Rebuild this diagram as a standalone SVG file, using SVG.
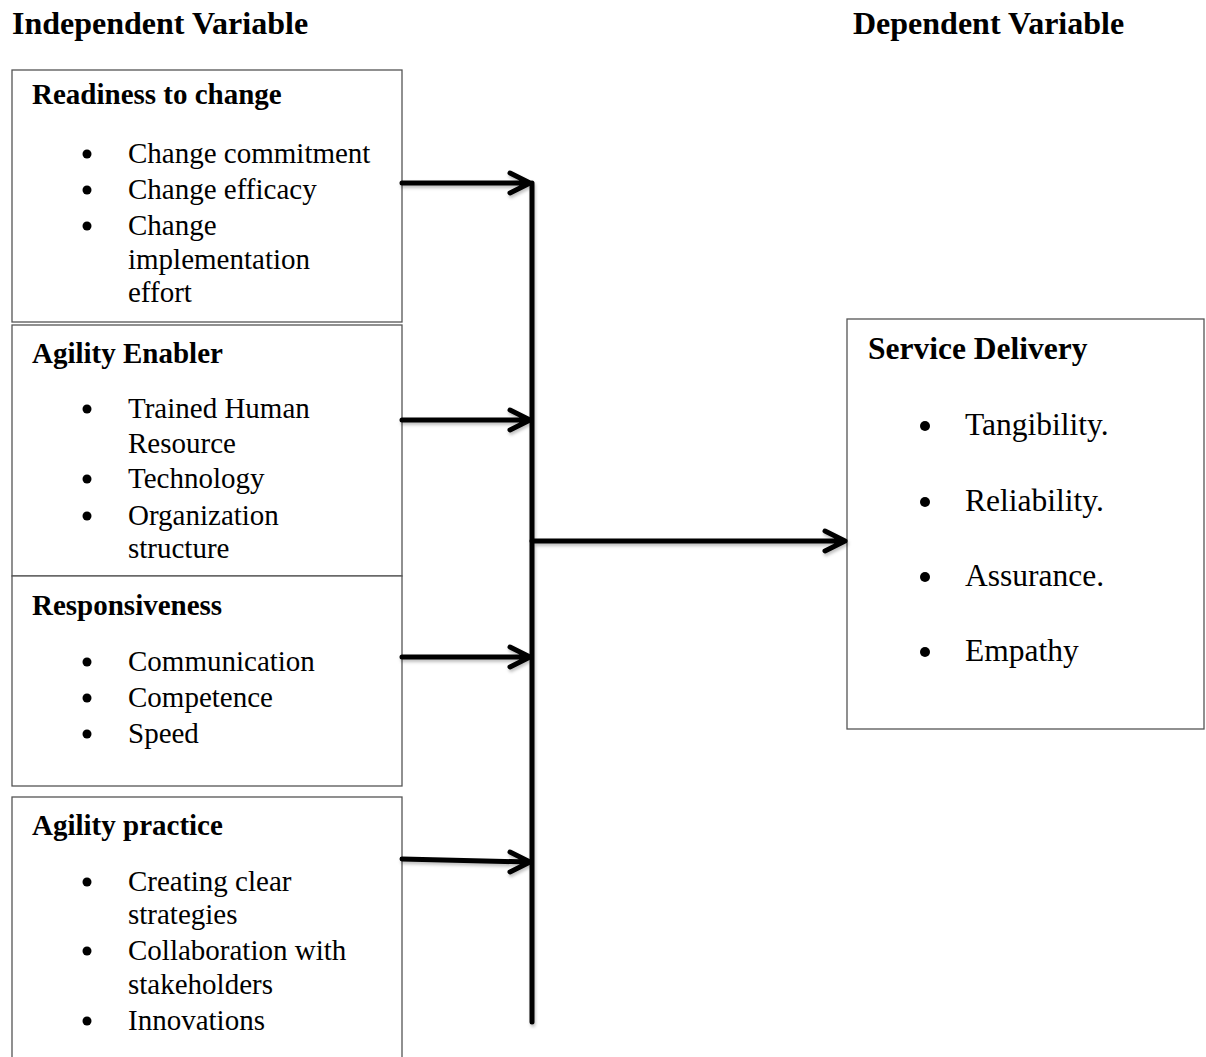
<svg xmlns="http://www.w3.org/2000/svg" width="1206" height="1057" viewBox="0 0 1206 1057">
<style>
  text { font-family: "Liberation Serif", "Times New Roman", serif; fill: #000; }
  .title { font-size: 32px; font-weight: bold; }
  .head { font-size: 29px; font-weight: bold; }
  .item { font-size: 29px; }
  .rhead { font-size: 31.5px; font-weight: bold; }
  .ritem { font-size: 31.5px; }
  .bul { fill: #000; }
  .box { fill: #fff; stroke: #555; stroke-width: 1.3; }
  .conn { fill: none; stroke: #000; stroke-width: 5; stroke-linecap: round; stroke-linejoin: round; }
</style>
<defs>
  <filter id="sh" x="-5%" y="-20%" width="110%" height="140%">
    <feDropShadow dx="1" dy="2.5" stdDeviation="1.5" flood-color="#000" flood-opacity="0.25"/>
  </filter>
</defs>
<rect width="1206" height="1057" fill="#fff"/>

<g id="titles">
  <text class="title" x="12" y="34">Independent Variable</text>
  <text class="title" x="853" y="34">Dependent Variable</text>
</g>

<g id="readiness">
  <rect class="box" x="12" y="70" width="390" height="252"/>
  <text class="head" x="32" y="104">Readiness to change</text>
  <circle class="bul" cx="87" cy="154" r="4.5"/><text class="item" x="128" y="163">Change commitment</text>
  <circle class="bul" cx="87" cy="190" r="4.5"/><text class="item" x="128" y="199">Change efficacy</text>
  <circle class="bul" cx="87" cy="226" r="4.5"/><text class="item" x="128" y="235">Change</text>
  <text class="item" x="128" y="269">implementation</text>
  <text class="item" x="128" y="302">effort</text>
</g>

<g id="agility-enabler">
  <rect class="box" x="12" y="325" width="390" height="251"/>
  <text class="head" x="32" y="363">Agility Enabler</text>
  <circle class="bul" cx="87" cy="409" r="4.5"/><text class="item" x="128" y="418">Trained Human</text>
  <text class="item" x="128" y="453">Resource</text>
  <circle class="bul" cx="87" cy="479" r="4.5"/><text class="item" x="128" y="488">Technology</text>
  <circle class="bul" cx="87" cy="516" r="4.5"/><text class="item" x="128" y="525">Organization</text>
  <text class="item" x="128" y="558">structure</text>
</g>

<g id="responsiveness">
  <rect class="box" x="12" y="576" width="390" height="210"/>
  <text class="head" x="32" y="615">Responsiveness</text>
  <circle class="bul" cx="87" cy="662" r="4.5"/><text class="item" x="128" y="671">Communication</text>
  <circle class="bul" cx="87" cy="698" r="4.5"/><text class="item" x="128" y="707">Competence</text>
  <circle class="bul" cx="87" cy="734" r="4.5"/><text class="item" x="128" y="743">Speed</text>
</g>

<g id="agility-practice">
  <rect class="box" x="12" y="797" width="390" height="280"/>
  <text class="head" x="32" y="835">Agility practice</text>
  <circle class="bul" cx="87" cy="882" r="4.5"/><text class="item" x="128" y="891">Creating clear</text>
  <text class="item" x="128" y="924">strategies</text>
  <circle class="bul" cx="87" cy="951" r="4.5"/><text class="item" x="128" y="960">Collaboration with</text>
  <text class="item" x="128" y="994">stakeholders</text>
  <circle class="bul" cx="87" cy="1021" r="4.5"/><text class="item" x="128" y="1030">Innovations</text>
</g>

<g id="service-delivery">
  <rect class="box" x="847" y="319" width="357" height="410"/>
  <text class="rhead" x="868" y="359">Service Delivery</text>
  <circle class="bul" cx="925" cy="426" r="5"/><text class="ritem" x="965" y="435">Tangibility.</text>
  <circle class="bul" cx="925" cy="502" r="5"/><text class="ritem" x="965" y="511">Reliability.</text>
  <circle class="bul" cx="925" cy="577" r="5"/><text class="ritem" x="965" y="586">Assurance.</text>
  <circle class="bul" cx="925" cy="652" r="5"/><text class="ritem" x="965" y="661">Empathy</text>
</g>

<g id="connectors" filter="url(#sh)">
  <path class="conn" d="M532 183 V1022"/>
  <path class="conn" d="M402 183 H530 M510 173 L530 183 L510 193"/>
  <path class="conn" d="M402 420 H530 M510 410 L530 420 L510 430"/>
  <path class="conn" d="M402 657 H530 M510 647 L530 657 L510 667"/>
  <path class="conn" d="M402 859 L530 862 M510 852 L530 862 L510 872"/>
  <path class="conn" d="M532 541 H845 M825 531 L845 541 L825 551"/>
</g>
</svg>
